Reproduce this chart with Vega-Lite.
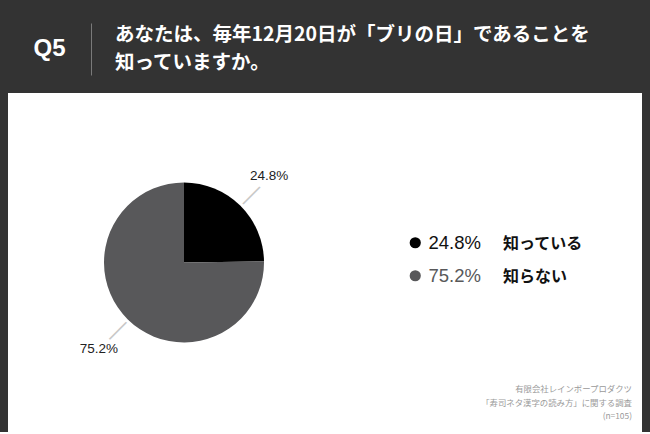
{
  "$schema": "https://vega.github.io/schema/vega-lite/v6.json",
  "background": "#333333",
  "padding": {"left": 8, "top": 23, "right": 8, "bottom": 0},
  "config": {"view": {"stroke": null}, "font": "Noto Sans CJK JP"},
  "spacing": 18,
  "vconcat": [
    {
      "spacing": 0,
      "hconcat": [
        {
          "width": 83,
          "height": 52,
          "data": {"values": [{"label": "Q5"}]},
          "mark": {"type": "text", "fill": "#ffffff", "fontSize": 24, "fontWeight": "bold", "font": "Liberation Sans", "baseline": "middle"},
          "encoding": {"text": {"field": "label"}}
        },
        {
          "width": 540,
          "height": 52,
          "data": {"values": [
            {"line": 1, "text": "あなたは、毎年12月20日が「ブリの日」であることを"},
            {"line": 2, "text": "知っていますか。"}
          ]},
          "mark": {"type": "text", "align": "left", "baseline": "middle", "dx": 24, "fill": "#ffffff", "fontSize": 19.5, "fontWeight": "bold", "font": "Noto Sans CJK JP"},
          "encoding": {
            "x": {"datum": 0, "type": "quantitative", "scale": {"domain": [0, 1]}, "axis": null},
            "y": {"field": "line", "type": "ordinal", "scale": {"type": "point", "padding": 0.4}, "title": null,
                  "axis": {"orient": "left", "domain": true, "domainColor": "#7a7a7a", "domainWidth": 1, "ticks": false, "labels": false, "grid": false}},
            "text": {"field": "text"}
          }
        }
      ]
    },
    {
      "spacing": 0,
      "resolve": {"scale": {"color": "independent", "opacity": "independent", "theta": "independent"}, "legend": {"color": "independent", "opacity": "independent"}},
      "hconcat": [
        {
          "width": 352,
          "height": 339,
          "view": {"fill": "#ffffff", "stroke": null},
          "data": {"values": [
            {"answer": "知っている", "pct": "24.8%", "value": 24.8},
            {"answer": "知らない", "pct": "75.2%", "value": 75.2}
          ]},
          "encoding": {
            "theta": {"field": "value", "type": "quantitative", "stack": true},
            "order": {"field": "value", "type": "quantitative", "sort": "ascending"}
          },
          "layer": [
            {
              "mark": {"type": "arc", "outerRadius": 80},
              "encoding": {
                "color": {"field": "pct", "type": "nominal", "scale": {"domain": ["24.8%", "75.2%"], "range": ["#000000", "#58585a"]}, "legend": null}
              }
            },
            {
              "mark": {"type": "text", "radius": 95, "text": "—", "angle": 315, "fontSize": 24, "fill": "#c8c8c8", "font": "Liberation Sans", "baseline": "middle", "align": "center"},
              "encoding": {"detail": {"field": "pct"}}
            },
            {
              "mark": {"type": "text", "radius": 121, "fontSize": 13.5, "fill": "#222222", "font": "Liberation Sans", "baseline": "middle", "align": "center"},
              "encoding": {"text": {"field": "pct"}, "detail": {"field": "pct"}}
            }
          ]
        },
        {
          "width": 282,
          "height": 339,
          "view": {"fill": "#ffffff", "stroke": null},
          "title": {
            "text": ["有限会社レインボープロダクツ", "「寿司ネタ漢字の読み方」に関する調査", "(n=105)"],
            "orient": "bottom", "anchor": "end", "frame": "group", "align": "right",
            "offset": -47, "dx": -10, "fontSize": 8.4, "fontWeight": "normal", "color": "#9a9a9a", "lineHeight": 13.5, "font": "Noto Sans CJK JP"
          },
          "data": {"values": [
            {"answer": "知っている", "pct": "24.8%", "value": 24.8},
            {"answer": "知らない", "pct": "75.2%", "value": 75.2}
          ]},
          "mark": {"type": "text", "text": ""},
          "encoding": {
            "color": {
              "field": "pct", "type": "nominal",
              "scale": {"domain": ["24.8%", "75.2%"], "range": ["#000000", "#58585a"]},
              "legend": {
                "orient": "none", "legendX": 46, "legendY": 140.5, "title": null,
                "symbolType": "circle", "symbolSize": 125, "symbolStrokeWidth": 0,
                "labelFontSize": 18.5, "labelFont": "Liberation Sans", "labelOffset": 4, "rowPadding": 14, "padding": 0,
                "encode": {"labels": {"update": {"fill": {"signal": "datum.label === '75.2%' ? '#58585a' : '#111111'"}}}}
              }
            },
            "opacity": {
              "field": "answer", "type": "nominal",
              "scale": {"domain": ["知っている", "知らない"], "range": [1, 1]},
              "legend": {
                "orient": "none", "legendX": 127, "legendY": 143, "title": null,
                "symbolOpacity": 0, "symbolSize": 1, "symbolStrokeWidth": 0,
                "symbolFillColor": "transparent", "symbolStrokeColor": "transparent", "labelOffset": 0,
                "labelFontSize": 16, "labelFont": "Noto Sans CJK JP", "labelFontWeight": "bold", "labelColor": "#111111",
                "rowPadding": 16.5, "padding": 0
              }
            }
          }
        }
      ]
    }
  ]
}
